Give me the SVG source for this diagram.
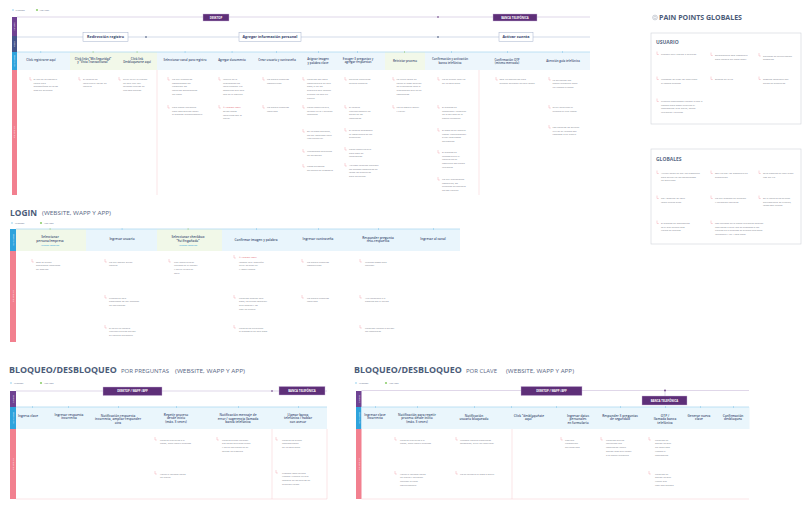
<svg xmlns="http://www.w3.org/2000/svg" width="809" height="509" viewBox="0 0 809 509">
<style>
text{font-family:"Open Sans","Liberation Sans",sans-serif}
.s{font-size:2.9px;fill:#3d4f73;font-weight:600;text-anchor:middle}
.s2{font-size:3.2px;fill:#3d4f73;font-weight:600;text-anchor:middle}
.ph{font-size:3.7px;fill:#34456b;font-weight:700;text-anchor:middle}
.n{font-size:2.4px;fill:#80858f}
.r{font-size:2.4px;fill:#e0606f}
.v{font-size:2.4px;fill:#2f9fd9;text-anchor:middle}
.lane{font-size:2.2px;fill:#fff;text-anchor:middle}
.brk{fill:none;stroke:#f2a2ac;stroke-width:.45}
.ch{fill:#5e2f78;stroke:#c9b3d9;stroke-width:.4}
.cht{font-size:2.8px;fill:#fff;font-weight:700;text-anchor:middle}
.pbox{fill:#fff;stroke:#a3b1cc;stroke-width:.5}
.t1{font-size:9.6px;font-weight:700;fill:#4b5b78}
.t1b{font-size:8.9px;font-weight:700;fill:#4b5b78}
.t2{font-size:5.6px;fill:#5a6885}
.leg{font-size:1.8px;fill:#5b6b8a}
.sep{stroke:#f6c9cf;stroke-width:.5}
.cl{stroke:#cbbcda;stroke-width:.6}
.ml{stroke:#a6d5ef;stroke-width:.7}
.tk{fill:#7fc3e8}
.tg{fill:#8fc96a}
.gb{fill:#fff;stroke:#cfd3da;stroke-width:.6}
.gt{font-size:5px;font-weight:700;fill:#5a6a86}
</style>
<defs>
<path id="br" class="brk" d="M0,0 V3 H1.8"/>
</defs>
<rect width="809" height="509" fill="#fff"/>

<!-- ================= TOP SECTION ================= -->
<g id="legend-top">
<circle cx="13" cy="10" r="1.1" fill="#bfe3f5"/><text class="leg" x="15.5" y="10.6">MAESTROS</text>
<circle cx="37" cy="10" r="1.1" fill="#8fcf6f"/><text class="leg" x="39.5" y="10.6">APOYADOS</text>
</g>
<g id="lanes-top">
<rect x="12" y="17" width="5" height="19" fill="#6f4292"/>
<rect x="12" y="36" width="5" height="16" fill="#44548a"/>
<rect x="12" y="52" width="5" height="18" fill="#2ea3dc"/>
<rect x="12" y="70" width="5" height="125" fill="#f2808f"/>
<text class="lane" transform="translate(15.3,26.5) rotate(-90)">Canales</text>
<text class="lane" transform="translate(15.3,44) rotate(-90)">Fases</text>
<text class="lane" transform="translate(15.3,61) rotate(-90)">Micro pasos</text>
<text class="lane" transform="translate(15.3,132) rotate(-90)">Pain Points</text>
</g>
<rect x="17" y="52" width="573" height="18" fill="#edf6fc"/>
<rect x="70" y="52" width="87" height="18" fill="#f2f8e9"/>
<rect x="385" y="52" width="40" height="18" fill="#f2f8e9"/>

<g id="connectors-top">
<line class="cl" x1="17" y1="17" x2="590" y2="17"/>
<line x1="17" y1="37" x2="590" y2="37" stroke="#b6c2da" stroke-width=".6"/>
<line class="ml" x1="17" y1="52" x2="590" y2="52"/>
<circle cx="438" cy="17" r=".8" fill="#5e2f78"/>
<circle cx="146" cy="37" r=".8" fill="#34456b"/>
<circle cx="438" cy="37" r=".8" fill="#34456b"/>
<line class="sep" x1="157" y1="70" x2="157" y2="195"/>
<line class="sep" x1="479" y1="70" x2="479" y2="195"/>
<rect class="tk" x="40.6" y="51" width=".5" height="2"/>
<rect class="tg" x="92.8" y="51" width=".5" height="2"/>
<rect class="tg" x="136.8" y="51" width=".5" height="2"/>
<rect class="tk" x="184.8" y="51" width=".5" height="2"/>
<rect class="tk" x="231.8" y="51" width=".5" height="2"/>
<rect class="tk" x="276" y="51" width=".5" height="2"/>
<rect class="tk" x="318" y="51" width=".5" height="2"/>
<rect class="tk" x="357" y="51" width=".5" height="2"/>
<rect class="tg" x="404" y="51" width=".5" height="2"/>
<rect class="tk" x="451" y="51" width=".5" height="2"/>
<rect class="tk" x="507" y="51" width=".5" height="2"/>
<rect class="tk" x="562" y="51" width=".5" height="2"/>
</g>

<g id="channel-desktop-top"><rect class="ch" x="203" y="14" width="26" height="7"/><text class="cht" x="216" y="18.5">DESKTOP</text></g>
<g id="channel-banca-top"><rect class="ch" x="493" y="14" width="44" height="7"/><text class="cht" x="515" y="18.5">BANCA TELEFÓNICA</text></g>

<g id="phase-redireccion"><rect class="pbox" x="83" y="32.5" width="45" height="9"/><text class="ph" x="105.5" y="38.3">Redirección registro</text></g>
<g id="phase-agregar"><rect class="pbox" x="239" y="32.5" width="62" height="9"/><text class="ph" x="270" y="38.3">Agregar información personal</text></g>
<g id="phase-activar"><rect class="pbox" x="499" y="32.5" width="34" height="9"/><text class="ph" x="516" y="38.3">Activar cuenta</text></g>

<g id="steps-top">
<text class="s" x="41" y="61">Click registrarse aquí</text>
<text class="s" x="93" y="59.5">Click links “Mis Seguridad”<tspan x="93" dy="3.3">y “Vista Transaccional”</tspan></text>
<text class="s" x="137" y="59.5">Click link<tspan x="137" dy="3.3">Desbloquearse aquí</tspan></text>
<text class="s" x="185" y="61">Seleccionar canal para registro</text>
<text class="s" x="232" y="60.5">Agregar documento</text>
<text class="s" x="277" y="61">Crear usuario y contraseña</text>
<text class="s" x="318" y="59.5">Asignar imagen<tspan x="318" dy="4">y palabra clave</tspan></text>
<text class="s" x="358" y="60">Escoger 3 preguntas y<tspan x="358" dy="3.3">agregar respuestas</tspan></text>
<text class="s" x="405" y="61.5">Reiniciar proceso</text>
<text class="s" x="450" y="60">Confirmación y activación<tspan x="450" dy="3.6">banca telefónica</tspan></text>
<text class="s" x="507" y="61">Confirmación OTP<tspan x="507" dy="3.3">(mismo mercado)</tspan></text>
<text class="s" x="563" y="61.5">Atención guía telefónica</text>
</g>

<g id="notes-top">
<use href="#br" x="30" y="77"/><text class="n" x="33.5" y="80">El link no es bastante<tspan x="33.5" dy="3.7">visible está</tspan><tspan x="33.5" dy="3.7">acompañado de otros</tspan><tspan x="33.5" dy="3.7">más sin principio</tspan></text>
<use href="#br" x="79" y="77"/><text class="n" x="83" y="80">El usuario no<tspan x="83" dy="3.7">identifica el botón de</tspan><tspan x="83" dy="3.7">registro</tspan></text>
<use href="#br" x="119" y="77"/><text class="n" x="123" y="80">Difícil intuir la función<tspan x="123" dy="3.7">de este link: hay</tspan><tspan x="123" dy="3.7">muchos círculos en</tspan><tspan x="123" dy="3.7">una sola sección</tspan></text>
<use href="#br" x="168" y="77"/><text class="n" x="172" y="80">No hay elementos<tspan x="172" dy="3.7">consolidados del</tspan><tspan x="172" dy="3.7">transición los</tspan><tspan x="172" dy="3.7">registros dependiendo</tspan><tspan x="172" dy="3.7">del canal</tspan></text>
<use href="#br" x="168" y="105"/><text class="n" x="172" y="108">Para banca telefónica<tspan x="172" dy="3.7">hace más sentido hacer</tspan><tspan x="172" dy="3.7">el proceso telefónicamente</tspan></text>
<use href="#br" x="219" y="77"/><text class="n" x="223" y="80">Incurre en la<tspan x="223" dy="3.7">información no</tspan><tspan x="223" dy="3.7">identificación. No</tspan><tspan x="223" dy="3.7">especifica qué está</tspan><tspan x="223" dy="3.7">mal en el captcha</tspan></text>
<use href="#br" x="219" y="105"/><text class="r" x="223" y="108">⊙ Versión Móvil</text><text class="n" x="223" y="112">Otros temas<tspan x="223" dy="3.7">identificas con lo</tspan><tspan x="223" dy="3.7">digital</tspan></text>
<use href="#br" x="263" y="77"/><text class="n" x="267" y="80">No acepta números<tspan x="267" dy="3.7">consecutivos</tspan></text>
<use href="#br" x="263" y="105"/><text class="n" x="267" y="108">No acepta números<tspan x="267" dy="3.7">repetidos</tspan></text>
<use href="#br" x="303" y="77"/><text class="n" x="307" y="80">Usuarios con poca<tspan x="307" dy="3.7">conocimiento de este</tspan><tspan x="307" dy="3.7">paso, si en los</tspan><tspan x="307" dy="3.7">proyecto este imagen</tspan><tspan x="307" dy="3.7">pueden no caer en</tspan><tspan x="307" dy="3.7">cuenta</tspan></text>
<use href="#br" x="303" y="105"/><text class="n" x="307" y="108">Carga cognitiva alta,<tspan x="307" dy="3.7">mucho texto y muchas</tspan><tspan x="307" dy="3.7">imágenes</tspan></text>
<use href="#br" x="303" y="129"/><text class="n" x="307" y="132">En un paso adicional,<tspan x="307" dy="3.7">no hay aceptado input</tspan><tspan x="307" dy="3.7">tipo verbalizar</tspan></text>
<use href="#br" x="303" y="149"/><text class="n" x="307" y="152">Mecanismo entendido<tspan x="307" dy="3.7">de validación</tspan></text>
<use href="#br" x="303" y="164"/><text class="n" x="307" y="167">Pocas personas<tspan x="307" dy="3.7">entienden su propósito</tspan></text>
<use href="#br" x="345" y="77"/><text class="n" x="349" y="80">Reiniciar preguntas<tspan x="349" dy="3.7">arreglo ejemplar</tspan></text>
<use href="#br" x="345" y="105"/><text class="n" x="349" y="108">El usuario<tspan x="349" dy="3.7">frecuentemente no</tspan><tspan x="349" dy="3.7">olvida de las</tspan><tspan x="349" dy="3.7">respuestas</tspan></text>
<use href="#br" x="345" y="128"/><text class="n" x="349" y="131">El usuario desconoce<tspan x="349" dy="3.7">la importancia de las</tspan><tspan x="349" dy="3.7">preguntas</tspan></text>
<use href="#br" x="345" y="147"/><text class="n" x="349" y="150">Carga cognitiva alta:<tspan x="349" dy="3.7">bajo hash de</tspan><tspan x="349" dy="3.7">recordación</tspan></text>
<use href="#br" x="345" y="163"/><text class="n" x="349" y="166">Algunos usuarios ingresan<tspan x="349" dy="3.7">las mismas respuestas en</tspan><tspan x="349" dy="3.7">todas las preguntas</tspan><tspan x="349" dy="3.7">para no olvidar</tspan></text>
<use href="#br" x="393" y="77"/><text class="n" x="396.5" y="80">La única forma de<tspan x="396.5" dy="3.7">volver al paso anterior</tspan><tspan x="396.5" dy="3.7">es eliminando toda la</tspan><tspan x="396.5" dy="3.7">información que se ha</tspan><tspan x="396.5" dy="3.7">consignado</tspan></text>
<use href="#br" x="393" y="105"/><text class="n" x="396.5" y="108">No es posible volver<tspan x="396.5" dy="3.7">y editar</tspan></text>
<use href="#br" x="438" y="77"/><text class="n" x="442" y="80">No se puede finalizar<tspan x="442" dy="3.7">en un solo canal</tspan></text>
<use href="#br" x="438" y="105"/><text class="n" x="442" y="108">El proceso es<tspan x="442" dy="3.7">demorado y depende</tspan><tspan x="442" dy="3.7">de la agilidad de la</tspan><tspan x="442" dy="3.7">banca telefónica</tspan></text>
<use href="#br" x="438" y="128"/><text class="n" x="442" y="131">El paso no se debería<tspan x="442" dy="3.7">llamar “Confirmación”</tspan><tspan x="442" dy="3.7">si hay más pasos</tspan><tspan x="442" dy="3.7">adicionales</tspan></text>
<use href="#br" x="438" y="150"/><text class="n" x="442" y="153">El proceso es<tspan x="442" dy="3.7">incompleto si el</tspan><tspan x="442" dy="3.7">usuario no se</tspan><tspan x="442" dy="3.7">comunica con banca</tspan><tspan x="442" dy="3.7">telefónica</tspan></text>
<use href="#br" x="438" y="177"/><text class="n" x="442" y="180">No hay indicaciones<tspan x="442" dy="3.7">completas, los</tspan><tspan x="442" dy="3.7">números de contacto</tspan><tspan x="442" dy="3.7">no son visibles</tspan></text>
<use href="#br" x="496" y="77"/><text class="n" x="499.5" y="80">Solo un porcentaje bajo<tspan x="499.5" dy="3.7">pueden activarse de esta forma</tspan></text>
<use href="#br" x="549" y="77"/><text class="n" x="552.5" y="80.5">La activación por<tspan x="552.5" dy="3.7">banca telefónica toma</tspan><tspan x="552.5" dy="3.7">un tiempo extenso</tspan></text>
<use href="#br" x="549" y="105"/><text class="n" x="552.5" y="108">Difícil identificar el<tspan x="552.5" dy="3.7">número al cual llamar</tspan></text>
<use href="#br" x="549" y="125"/><text class="n" x="552.5" y="128">Los usuarios no quieren<tspan x="552.5" dy="3.7">utilizar su tiempo con</tspan><tspan x="552.5" dy="3.7">llamadas a un cliente</tspan></text>
</g>

<!-- ================= PAIN POINTS GLOBALES ================= -->
<g id="pain-title">
<circle cx="655" cy="17.5" r="2.4" fill="none" stroke="#9aa3b3" stroke-width=".5"/>
<circle cx="655" cy="17.5" r="1.2" fill="none" stroke="#9aa3b3" stroke-width=".4"/>
<text x="659" y="20.2" font-size="7" font-weight="700" fill="#4b5b78" textLength="83" lengthAdjust="spacingAndGlyphs">PAIN POINTS GLOBALES</text>
</g>
<g id="box-usuario">
<rect class="gb" x="651" y="33" width="150" height="91"/>
<text class="gt" x="656" y="44">USUARIO</text>
<use href="#br" x="657" y="51.5"/><text class="n" x="661" y="55">Timeout muy rápido: 5 minutos</text>
<use href="#br" x="711" y="52.5"/><text class="n" x="715" y="56">Enrolamiento solo disponible<tspan x="715" dy="3.7">para usuario del canal móvil</tspan></text>
<use href="#br" x="759" y="53"/><text class="n" x="763" y="56.5">Sistemas de autenticación<tspan x="763" dy="3.7">obsoletos</tspan></text>
<use href="#br" x="657" y="76.5"/><text class="n" x="661" y="80">Mensajes de error no identifican<tspan x="661" dy="3.7">el campo erróneo</tspan></text>
<use href="#br" x="711" y="76.5"/><text class="n" x="715" y="80">Errores de texto</text>
<use href="#br" x="759" y="76.5"/><text class="n" x="763" y="80">Bloqueo constante por<tspan x="763" dy="3.7">olvido de preguntas</tspan></text>
<use href="#br" x="657" y="98.5"/><text class="n" x="661" y="102">Clientes bloqueados tienden a usar 3<tspan x="661" dy="3.7">canales para poder efectuar el</tspan><tspan x="661" dy="3.7">desbloqueo: sitio digital, banca</tspan><tspan x="661" dy="3.7">telefónica y oficinas</tspan></text>
</g>
<g id="box-globales">
<rect class="gb" x="651" y="149" width="150" height="95"/>
<text class="gt" x="656" y="160.5">GLOBALES</text>
<use href="#br" x="657" y="170.5"/><text class="n" x="661" y="174">Actualización de RBA no disponible<tspan x="661" dy="3.7">para actualizar los mecanismos</tspan><tspan x="661" dy="3.7">de seguridad</tspan></text>
<use href="#br" x="711" y="170.5"/><text class="n" x="715" y="174">OTP vía RBA no disponible en<tspan x="715" dy="3.7">producción</tspan></text>
<use href="#br" x="759" y="170.5"/><text class="n" x="763" y="174">Otro bloqueo se realiza por<tspan x="763" dy="3.7">uso del IVR</tspan></text>
<use href="#br" x="657" y="195.5"/><text class="n" x="661" y="199">RBA después de login<tspan x="661" dy="3.7">toma niveles altos</tspan></text>
<use href="#br" x="711" y="195.5"/><text class="n" x="715" y="199">No hay proceso de creación<tspan x="715" dy="3.7">y validación robustas</tspan></text>
<use href="#br" x="759" y="195.5"/><text class="n" x="763" y="199">En el registro no se hace<tspan x="763" dy="3.7">perfilamiento de clientes,</tspan><tspan x="763" dy="3.7">todos son iguales</tspan></text>
<use href="#br" x="657" y="220.5"/><text class="n" x="661" y="224">El proceso de desbloqueo<tspan x="661" dy="3.7">es el que genera más</tspan><tspan x="661" dy="3.7">tráfico en oficinas</tspan></text>
<use href="#br" x="711" y="220.5"/><text class="n" x="715" y="224">Los recursos de la banca telefónica podrían<tspan x="715" dy="3.7">destinarse a otro tipo de procesos si los</tspan><tspan x="715" dy="3.7">clientes en el proceso se pudiera gestionar</tspan><tspan x="715" dy="3.7">fácilmente y en 1 solo canal</tspan></text>
</g>

<!-- ================= LOGIN ================= -->
<g id="login-title">
<text class="t1" x="10" y="215.5" textLength="27" lengthAdjust="spacingAndGlyphs">LOGIN</text>
<text class="t2" x="42" y="214.5" textLength="69" lengthAdjust="spacingAndGlyphs">(WEBSITE, WAPP Y APP)</text>
<circle cx="12" cy="223" r="1.1" fill="#bfe3f5"/><text class="leg" x="15" y="223.6">MAESTROS</text>
<circle cx="41" cy="223" r="1.1" fill="#8fcf6f"/><text class="leg" x="44" y="223.6">APOYADOS</text>
</g>
<g id="login-lanes">
<rect x="10" y="229" width="6" height="22" fill="#2ea3dc"/>
<rect x="10" y="251" width="6" height="91" fill="#f2808f"/>
<text class="lane" transform="translate(13.8,240) rotate(-90)">Micro pasos</text>
<text class="lane" transform="translate(13.8,296) rotate(-90)">Pain Points</text>
</g>
<rect x="16" y="229" width="444" height="22" fill="#e9f5fc"/>
<rect x="16" y="229" width="70" height="22" fill="#f1f8e8"/>
<rect x="157" y="229" width="65" height="22" fill="#f1f8e8"/>
<g id="connectors-login">
<line class="ml" x1="16" y1="229" x2="460" y2="229"/>
<rect class="tg" x="49.8" y="228" width=".5" height="2"/>
<rect class="tk" x="121.8" y="228" width=".5" height="2"/>
<rect class="tg" x="187.8" y="228" width=".5" height="2"/>
<rect class="tk" x="256" y="228" width=".5" height="2"/>
<rect class="tk" x="318" y="228" width=".5" height="2"/>
<rect class="tk" x="378" y="228" width=".5" height="2"/>
<rect class="tk" x="433" y="228" width=".5" height="2"/>
</g>
<g id="steps-login">
<text class="s2" x="50" y="238">Seleccionar<tspan x="50" dy="3.6">persona/empresa</tspan></text><text class="v" x="50" y="245.5">Versión Desktop</text>
<text class="s2" x="122" y="239.5">Ingresar usuario</text>
<text class="s2" x="188" y="238">Seleccionar checkbox<tspan x="188" dy="3.6">“Fui Engañado”</tspan></text><text class="v" x="188" y="245.5">Versión Desktop</text>
<text class="s2" x="256" y="240.5">Confirmar imagen y palabra</text>
<text class="s2" x="318" y="239.5">Ingresar contraseña</text>
<text class="s2" x="378" y="238.5">Responder pregunta<tspan x="378" dy="3.6">reto-respuesta</tspan></text>
<text class="s2" x="433" y="240">Ingresar al canal</text>
</g>
<g id="notes-login">
<use href="#br" x="32" y="259"/><text class="n" x="36" y="262.5">Solo se puede<tspan x="36" dy="3.7">seleccionar empresas</tspan><tspan x="36" dy="3.7">en desktop</tspan></text>
<use href="#br" x="105" y="259"/><text class="n" x="109" y="262.5">No hay opción olvidé<tspan x="109" dy="3.7">usuario</tspan></text>
<use href="#br" x="105" y="295"/><text class="n" x="109" y="298.5">Cuando se está<tspan x="109" dy="3.7">bloqueado no hay mensaje</tspan><tspan x="109" dy="3.7">de notificación</tspan></text>
<use href="#br" x="105" y="325"/><text class="n" x="109" y="328.5">Si no es un usuario<tspan x="109" dy="3.7">frecuente puede olvidar</tspan><tspan x="109" dy="3.7">su usuario fácilmente</tspan></text>
<use href="#br" x="169" y="259"/><text class="n" x="174" y="262.5">Link debería estar<tspan x="174" dy="3.7">ubicado en el header</tspan><tspan x="174" dy="3.7">y no en la caja de</tspan><tspan x="174" dy="3.7">login</tspan></text>
<use href="#br" x="234" y="255"/><text class="r" x="239" y="258">⊙ Versión Móvil</text><text class="n" x="239" y="262.5">Imagen muy pequeña:<tspan x="239" dy="3.7">difícil de analizar</tspan><tspan x="239" dy="3.7">y toma tiempo</tspan></text>
<use href="#br" x="234" y="295"/><text class="n" x="239" y="298.5">Usuarios ignoran este<tspan x="239" dy="3.7">paso, les puede aparecer</tspan><tspan x="239" dy="3.7">otra imagen y no</tspan><tspan x="239" dy="3.7">caer en cuenta</tspan></text>
<use href="#br" x="234" y="325"/><text class="n" x="239" y="328.5">Usuario no entienden<tspan x="239" dy="3.7">el propósito de este paso</tspan></text>
<use href="#br" x="302" y="259"/><text class="n" x="307" y="262.5">No acepta números<tspan x="307" dy="3.7">consecutivos</tspan></text>
<use href="#br" x="302" y="295"/><text class="n" x="307" y="298.5">No acepta números<tspan x="307" dy="3.7">repetidos</tspan></text>
<use href="#br" x="360" y="259"/><text class="n" x="365" y="262.5">Muchos pasos para<tspan x="365" dy="3.7">ingresar</tspan></text>
<use href="#br" x="360" y="295"/><text class="n" x="365" y="298.5">Alta tendencia a el<tspan x="365" dy="3.7">bloqueo por el olvido</tspan></text>
<use href="#br" x="360" y="325"/><text class="n" x="365" y="328.5">Usuarios tienden a olvidar<tspan x="365" dy="3.7">las respuestas</tspan></text>
</g>

<!-- ================= BLOQUEO POR PREGUNTAS ================= -->
<g id="preg-title">
<text class="t1b" x="9" y="373">BLOQUEO/DESBLOQUEO</text>
<text class="t2" x="121" y="372.5" textLength="48" lengthAdjust="spacingAndGlyphs">POR PREGUNTAS</text>
<text class="t2" x="175" y="372.5" textLength="70" lengthAdjust="spacingAndGlyphs">(WEBSITE, WAPP Y APP)</text>
<circle cx="11" cy="383" r="1.1" fill="#bfe3f5"/><text class="leg" x="14" y="383.6">MAESTROS</text>
<circle cx="41" cy="383" r="1.1" fill="#8fcf6f"/><text class="leg" x="44" y="383.6">APOYADOS</text>
</g>
<g id="preg-lanes">
<rect x="10" y="391" width="6" height="16" fill="#6f4292"/>
<rect x="10" y="407" width="6" height="22" fill="#2ea3dc"/>
<rect x="10" y="429" width="6" height="70" fill="#f2808f"/>
<text class="lane" transform="translate(13.8,399) rotate(-90)">Canales</text>
<text class="lane" transform="translate(13.8,418) rotate(-90)">Micro pasos</text>
<text class="lane" transform="translate(13.8,464) rotate(-90)">Pain Points</text>
</g>
<rect x="16" y="407" width="311" height="22" fill="#eaf6fc"/>
<g id="connectors-preg">
<line class="cl" x1="16" y1="391" x2="327" y2="391"/>
<circle cx="272" cy="391" r=".8" fill="#5e2f78"/>
<line class="ml" x1="16" y1="407" x2="327" y2="407"/>
<rect class="tk" x="32" y="406" width=".5" height="2"/>
<rect class="tk" x="68" y="406" width=".5" height="2"/>
<rect class="tk" x="118" y="406" width=".5" height="2"/>
<rect class="tk" x="176" y="406" width=".5" height="2"/>
<rect class="tk" x="238" y="406" width=".5" height="2"/>
<rect class="tk" x="298" y="406" width=".5" height="2"/>
<line class="sep" x1="272" y1="429" x2="272" y2="499"/>
<line class="sep" x1="327" y1="429" x2="327" y2="499"/>
<line class="sep" x1="16" y1="499" x2="327" y2="499"/>
</g>
<g id="preg-channel-desktop"><rect class="ch" x="103" y="387" width="59" height="8.5"/><text class="cht" x="132.5" y="392.2">DESKTOP / WAPP /APP</text></g>
<g id="preg-channel-banca"><rect class="ch" x="279" y="386.5" width="46" height="8.5"/><text class="cht" x="302" y="391.7">BANCA TELEFÓNICA</text></g>
<g id="steps-preg">
<text class="s2" x="28" y="417">Ingresa clave</text>
<text class="s2" x="69" y="415.5">Ingresar respuesta<tspan x="69" dy="3.4">incorrecta</tspan></text>
<text class="s2" x="118" y="417">Notificación respuesta<tspan x="118" dy="3.4">incorrecta, ampliar responder</tspan><tspan x="118" dy="3.4">otra</tspan></text>
<text class="s2" x="176" y="415.5">Repetir proceso<tspan x="176" dy="3.8">desde inicio</tspan><tspan x="176" dy="3.8">(máx. 3 veces)</tspan></text>
<text class="s2" x="238" y="416">Notificación mensaje de<tspan x="238" dy="3.6">error / sugerencia llamada</tspan><tspan x="238" dy="3.6">banca telefónica</tspan></text>
<text class="s2" x="298" y="415.5">Llamar banca<tspan x="298" dy="3.8">telefónica / hablar</tspan><tspan x="298" dy="3.8">con asesor</tspan></text>
</g>
<g id="notes-preg">
<use href="#br" x="155" y="437"/><text class="n" x="160" y="440.5">Usuario redirigido a el<tspan x="160" dy="3.7">home, debe repetir proceso</tspan></text>
<use href="#br" x="155" y="471"/><text class="n" x="160" y="474.5">Volver a ingresar datos<tspan x="160" dy="3.7">de nuevo</tspan></text>
<use href="#br" x="217" y="437"/><text class="n" x="222" y="440.5">Usuario puede ingresar<tspan x="222" dy="3.7">sus datos múltiples veces</tspan><tspan x="222" dy="3.7">y no es notificado de su</tspan><tspan x="222" dy="3.7">estado de bloqueo</tspan></text>
<use href="#br" x="276" y="437"/><text class="n" x="282" y="440.5">Usuario no puede<tspan x="282" dy="3.7">desbloquearse</tspan><tspan x="282" dy="3.7">en un solo canal</tspan></text>
<use href="#br" x="276" y="470"/><text class="n" x="282" y="473.5">Proceso toma mucho<tspan x="282" dy="3.7">tiempo y genera un alto</tspan><tspan x="282" dy="3.7">impacto en los puntos de</tspan><tspan x="282" dy="3.7">atención físicos</tspan></text>
</g>

<!-- ================= BLOQUEO POR CLAVE ================= -->
<g id="clave-title">
<text class="t1b" x="354" y="373">BLOQUEO/DESBLOQUEO</text>
<text class="t2" x="466" y="372.5" textLength="31" lengthAdjust="spacingAndGlyphs">POR CLAVE</text>
<text class="t2" x="506" y="372.5" textLength="68" lengthAdjust="spacingAndGlyphs">(WEBSITE, WAPP Y APP)</text>
<circle cx="356" cy="383" r="1.1" fill="#bfe3f5"/><text class="leg" x="359" y="383.6">MAESTROS</text>
<circle cx="386" cy="383" r="1.1" fill="#8fcf6f"/><text class="leg" x="389" y="383.6">APOYADOS</text>
</g>
<g id="clave-lanes">
<rect x="356" y="391" width="5.5" height="16" fill="#6f4292"/>
<rect x="356" y="407" width="5.5" height="22" fill="#2ea3dc"/>
<rect x="356" y="429" width="5.5" height="70" fill="#f2808f"/>
<text class="lane" transform="translate(359.6,399) rotate(-90)">Canales</text>
<text class="lane" transform="translate(359.6,418) rotate(-90)">Micro pasos</text>
<text class="lane" transform="translate(359.6,464) rotate(-90)">Pain Points</text>
</g>
<rect x="361.5" y="407" width="388" height="22" fill="#eaf6fc"/>
<g id="connectors-clave">
<line class="cl" x1="361.5" y1="390.5" x2="749" y2="390.5"/>
<circle cx="665" cy="390.5" r=".9" fill="#5e2f78"/>
<line class="cl" x1="665" y1="390.5" x2="665" y2="396"/>
<line class="ml" x1="361.5" y1="407" x2="749" y2="407"/>
<rect class="tk" x="375" y="406" width=".5" height="2"/>
<rect class="tk" x="417" y="406" width=".5" height="2"/>
<rect class="tk" x="474" y="406" width=".5" height="2"/>
<rect class="tk" x="511" y="406" width=".5" height="2"/>
<rect class="tk" x="556" y="406" width=".5" height="2"/>
<rect class="tk" x="620" y="406" width=".5" height="2"/>
<rect class="tk" x="665" y="406" width=".5" height="2"/>
<rect class="tk" x="700" y="406" width=".5" height="2"/>
<rect class="tk" x="733" y="406" width=".5" height="2"/>
<line class="sep" x1="512" y1="429" x2="512" y2="499"/>
<line class="sep" x1="361.5" y1="499" x2="749" y2="499"/>
</g>
<g id="clave-channel-desktop"><rect class="ch" x="521" y="386.5" width="61" height="9"/><text class="cht" x="551.5" y="392">DESKTOP / WAPP /APP</text></g>
<g id="clave-channel-banca"><rect class="ch" x="642" y="396" width="45" height="9"/><text class="cht" x="664.5" y="401.5">BANCA TELEFÓNICA</text></g>
<g id="steps-clave">
<text class="s2" x="375" y="415.5">Ingresar clave<tspan x="375" dy="3.8">incorrecta</tspan></text>
<text class="s2" x="417" y="415.5">Notificación para repetir<tspan x="417" dy="3.8">proceso desde inicio</tspan><tspan x="417" dy="3.8">(máx. 3 veces)</tspan></text>
<text class="s2" x="474" y="416.5">Notificación<tspan x="474" dy="3.8">usuario bloqueado</tspan></text>
<text class="s2" x="529" y="416.5">Click “desbloquéate<tspan x="529" dy="3.8">aquí”</tspan></text>
<text class="s2" x="578" y="416.5">Ingresar datos<tspan x="578" dy="3.8">personales</tspan><tspan x="578" dy="3.8">en formulario</tspan></text>
<text class="s2" x="620" y="416.5">Responder 3 preguntas<tspan x="620" dy="3.8">de seguridad</tspan></text>
<text class="s2" x="665" y="416.5">OTP /<tspan x="665" dy="3.8">llamada banca</tspan><tspan x="665" dy="3.8">telefónica</tspan></text>
<text class="s2" x="699" y="416.5">Generar nueva<tspan x="699" dy="3.8">clave</tspan></text>
<text class="s2" x="733" y="416.5">Confirmación<tspan x="733" dy="3.8">desbloqueo</tspan></text>
</g>
<g id="notes-clave">
<use href="#br" x="395" y="437"/><text class="n" x="400" y="440.5">Usuario redirigido a el<tspan x="400" dy="3.7">home, debe repetir proceso</tspan></text>
<use href="#br" x="395" y="471"/><text class="n" x="400" y="474.5">Volver a ingresar datos<tspan x="400" dy="3.7">de nuevo y no poder</tspan><tspan x="400" dy="3.7">ingresar la clave</tspan><tspan x="400" dy="3.7">correctamente</tspan></text>
<use href="#br" x="456" y="437"/><text class="n" x="460" y="440.5">Mensaje usuario bloqueado<tspan x="460" dy="3.7">escondido, difícil de identificar</tspan></text>
<use href="#br" x="456" y="471"/><text class="n" x="460" y="474.5">No se muestra el paso a seguir</text>
<use href="#br" x="561" y="437"/><text class="n" x="565" y="440.5">Captcha<tspan x="565" dy="3.9">transacción</tspan><tspan x="565" dy="3.9">entrecortado</tspan></text>
<use href="#br" x="601" y="437"/><text class="n" x="606" y="440.5">Usuarios que no<tspan x="606" dy="3.9">recuerdan sus</tspan><tspan x="606" dy="3.9">respuestas tienen</tspan><tspan x="606" dy="3.9">opción más que llamar</tspan><tspan x="606" dy="3.9">a la banca telefónica</tspan></text>
<use href="#br" x="649" y="437"/><text class="n" x="655" y="440.5">Usuarios en<tspan x="655" dy="3.9">opción de OTP</tspan><tspan x="655" dy="3.9">les toma más</tspan><tspan x="655" dy="3.9">tiempo el</tspan><tspan x="655" dy="3.9">desbloqueo</tspan></text>
<use href="#br" x="649" y="471"/><text class="n" x="655" y="474.5">Usuarios en<tspan x="655" dy="3.9">opción de OTP</tspan><tspan x="655" dy="3.9">tienen que</tspan><tspan x="655" dy="3.9">usar dos canales</tspan></text>
</g>
</svg>
